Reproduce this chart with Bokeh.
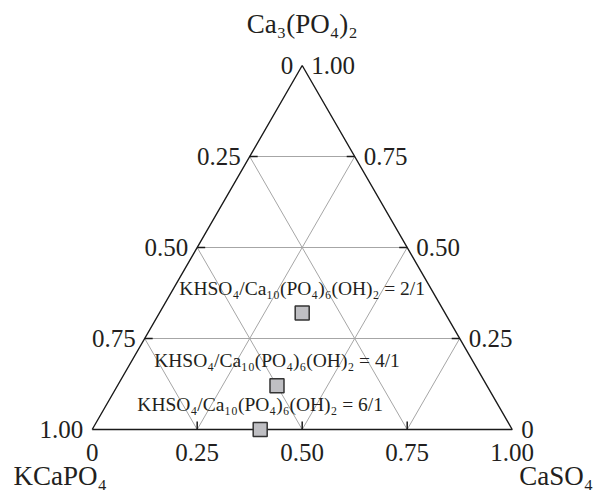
from bokeh.plotting import figure
from bokeh.models import Range1d, ColumnDataSource
from bokeh.core.properties import value
from bokeh.embed import file_html
from bokeh.resources import INLINE

# ---- data -------------------------------------------------------------
top_name = "Ca₃(PO₄)₂"
left_name = "KCaPO₄"
right_name = "CaSO₄"

tick_values = [0.0, 0.25, 0.5, 0.75, 1.0]
tick_labels = ["0", "0.25", "0.50", "0.75", "1.00"]
grid_values = [0.25, 0.5, 0.75]

sample_labels = [
    "KHSO₄/Ca₁₀(PO₄)₆(OH)₂ = 2/1",
    "KHSO₄/Ca₁₀(PO₄)₆(OH)₂ = 4/1",
    "KHSO₄/Ca₁₀(PO₄)₆(OH)₂ = 6/1",
]
sample_ca3po42 = [0.32, 0.12, 0.0]   # top component fraction
sample_caso4 = [0.34, 0.38, 0.40]    # bottom axis component fraction

# ---- helpers ----------------------------------------------------------
def X(b, t):
    return b + t / 2.0

FONT = value("Liberation Serif")
TXT = "#231f20"

p = figure(width=596, height=493,
           x_range=Range1d(-0.2183, 1.2007), y_range=Range1d(-0.1758, 1.1786),
           output_backend="svg", toolbar_location=None, min_border=0,
           x_axis_type=None, y_axis_type=None)
p.grid.visible = False
p.outline_line_color = None
p.background_fill_color = "white"

# grid lines (three families)
gx0, gy0, gx1, gy1 = [], [], [], []
for v in grid_values:
    gx0.append(X(0, v)); gy0.append(v); gx1.append(X(1 - v, v)); gy1.append(v)
    gx0.append(X(v, 0)); gy0.append(0); gx1.append(X(v, 1 - v)); gy1.append(1 - v)
    gx0.append(X(1 - v, 0)); gy0.append(0); gx1.append(X(0, 1 - v)); gy1.append(1 - v)
p.segment(gx0, gy0, gx1, gy1, line_color="#a6a6a6", line_width=1)

# triangle frame
p.line([X(0, 0), X(1, 0), X(0, 1), X(0, 0)], [0, 0, 1, 0],
       line_color="#1a1a1a", line_width=1.4)

# ticks
tl = 0.019
tx0, ty0, tx1, ty1 = [], [], [], []
for v in grid_values:
    t = 1 - v
    tx0.append(X(0, t)); ty0.append(t); tx1.append(X(0, t) + tl); ty1.append(t)
    t = v
    tx0.append(X(1 - t, t)); ty0.append(t); tx1.append(X(1 - t, t) - tl); ty1.append(t)
    tx0.append(X(v, 0)); ty0.append(0); tx1.append(X(v, 0)); ty1.append(tl * 420 / 364)
p.segment(tx0, ty0, tx1, ty1, line_color="#1a1a1a", line_width=1.5)

# tick labels
left_src = ColumnDataSource(dict(x=[X(0, 1 - v) for v in tick_values],
                                 y=[1 - v for v in tick_values], text=tick_labels))
p.text("x", "y", text="text", source=left_src, text_align="right",
       text_baseline="middle", x_offset=-9, text_font=FONT,
       text_font_size="25px", text_color=TXT)
right_src = ColumnDataSource(dict(x=[X(1 - v, v) for v in tick_values],
                                  y=tick_values, text=tick_labels))
p.text("x", "y", text="text", source=right_src, text_align="left",
       text_baseline="middle", x_offset=9, text_font=FONT,
       text_font_size="25px", text_color=TXT)
bottom_src = ColumnDataSource(dict(x=[X(v, 0) for v in tick_values],
                                   y=[0] * len(tick_values), text=tick_labels))
p.text("x", "y", text="text", source=bottom_src, text_align="center",
       text_baseline="middle", y_offset=23, text_font=FONT,
       text_font_size="25px", text_color=TXT)

# component names
p.text([X(0, 1)], [1], text=[top_name], text_align="center",
       text_baseline="alphabetic", y_offset=-42, text_font=FONT,
       text_font_size="27px", text_color=TXT)
p.text([X(0, 0)], [0], text=[left_name], text_align="center",
       text_baseline="alphabetic", x_offset=-32, y_offset=46, text_font=FONT,
       text_font_size="27px", text_color=TXT)
p.text([X(1, 0)], [0], text=[right_name], text_align="center",
       text_baseline="alphabetic", x_offset=44, y_offset=46, text_font=FONT,
       text_font_size="27px", text_color=TXT)

# samples
sx = [X(b, t) for b, t in zip(sample_caso4, sample_ca3po42)]
src = ColumnDataSource(dict(x=sx, y=sample_ca3po42, text=sample_labels))
p.text("x", "y", text="text", source=src, text_align="center",
       text_baseline="alphabetic", y_offset=-25, text_font=FONT,
       text_font_size="19.5px", text_color=TXT)
p.scatter("x", "y", source=src, marker="square", size=14,
          fill_color="#bfbfc3", line_color="#333333", line_width=1.5)

open("out.html", "w").write(file_html(p, INLINE))
